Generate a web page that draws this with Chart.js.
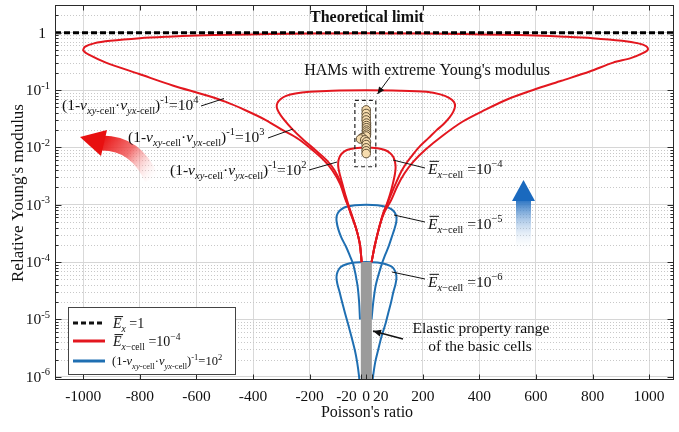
<!DOCTYPE html>
<html><head><meta charset="utf-8">
<script src="https://cdn.jsdelivr.net/npm/chart.js@4.4.0/dist/chart.umd.min.js"></script>
<style>html,body{margin:0;padding:0;background:#fff;}canvas{display:block;}</style>
</head><body>
<canvas id="c" width="679" height="432"></canvas>
<script>
// ---------- data ----------
const xTickValues = [-1000,-800,-600,-400,-200,-20,0,20,200,400,600,800,1000];
const xTickLabels = ['-1000','-800','-600','-400','-200','-20','0','20','200','400','600','800','1000'];
const yTickExponents = [-6,-5,-4,-3,-2,-1,0];
const limitLine = [[-1100,1],[1100,1]];
// red: E_x-cell = 1e-4, (1 - v·v)^-1 = 1e4
const redLoop1e4 = [[-16,1e-4],[-22,2e-4],[-31,3.2e-4],[-40,4.5e-4],[-52,6.5e-4],[-62,9e-4],[-75,1.3e-3],[-92,2.3e-3],[-120,4.0e-3],[-150,6.0e-3],[-190,9.0e-3],[-240,1.4e-2],[-295,2.0e-2],[-355,3.0e-2],[-425,4.4e-2],[-496,6.2e-2],[-566,8.1e-2],[-684,0.12],[-802,0.19],[-920,0.30],[-975,0.40],[-1000,0.49],[-993,0.57],[-962,0.65],[-905,0.72],[-800,0.80],[-700,0.85],[-600,0.89],[-480,0.92],[-340,0.945],[-180,0.965],[0,0.972],[180,0.965],[340,0.945],[480,0.92],[600,0.89],[700,0.85],[800,0.80],[905,0.72],[962,0.65],[990,0.58],[996,0.51],[978,0.44],[935,0.36],[873,0.30],[790,0.21],[690,0.145],[590,0.1],[500,0.069],[420,0.045],[340,0.028],[270,0.016],[210,0.0092],[166,0.0056],[135,0.0035],[110,0.0021],[88,0.0012],[65,7.5e-4],[48,4.4e-4],[31,2.0e-4],[19,1.0e-4]];
// red: (1 - v·v)^-1 = 1e3
const redLoop1e3 = [[-16,1e-4],[-22,2e-4],[-31,3.2e-4],[-40,4.5e-4],[-52,6.5e-4],[-62,9e-4],[-73,1.3e-3],[-88,2.3e-3],[-112,4.0e-3],[-140,6.0e-3],[-180,9.0e-3],[-225,1.4e-2],[-262,2.1e-2],[-292,3.1e-2],[-309,4.1e-2],[-316,5.0e-2],[-314,5.9e-2],[-303,6.9e-2],[-283,7.9e-2],[-250,8.7e-2],[-200,9.3e-2],[-120,9.75e-2],[0,9.9e-2],[120,9.75e-2],[213,9.3e-2],[262,8.4e-2],[293,7.3e-2],[310,6.2e-2],[314,5.2e-2],[308,4.2e-2],[294,3.3e-2],[272,2.5e-2],[249,2.0e-2],[220,1.45e-2],[190,1.05e-2],[165,7.5e-3],[143,5.4e-3],[124,3.8e-3],[107,2.5e-3],[90,1.6e-3],[75,1.05e-3],[62,7.5e-4],[48,4.4e-4],[31,2e-4],[19,1e-4]];
// red: (1 - v·v)^-1 = 1e2
const redLoop1e2 = [[-16,1e-4],[-22,2e-4],[-31,3.2e-4],[-40,4.5e-4],[-50,6.5e-4],[-60,9e-4],[-72,1.4e-3],[-83,2.2e-3],[-92,3.2e-3],[-98,4.3e-3],[-99,5.4e-3],[-95,6.6e-3],[-85,7.9e-3],[-68,9.0e-3],[-40,9.7e-3],[0,1.0e-2],[40,9.7e-3],[66,9.0e-3],[84,8.0e-3],[96,6.8e-3],[102,5.5e-3],[104,4.4e-3],[101,3.3e-3],[94,2.3e-3],[84,1.5e-3],[72,1.0e-3],[60,7e-4],[48,4.4e-4],[31,2e-4],[19,1e-4]];
// blue: (1 - v·v)^-1 = 1e2, E_x-cell = 1e-5
const blueLoop1e5 = [[-22,1e-5],[-25,2e-5],[-31,4e-5],[-45,8.9e-5],[-58,1.3e-4],[-70,1.8e-4],[-88,2.7e-4],[-99,3.8e-4],[-104,4.9e-4],[-105,6.0e-4],[-100,7.2e-4],[-88,8.3e-4],[-70,9.2e-4],[-40,9.8e-4],[0,1e-3],[40,9.8e-4],[70,9.2e-4],[90,8.3e-4],[102,7.2e-4],[107,6.0e-4],[106,4.9e-4],[100,3.8e-4],[90,2.7e-4],[78,1.8e-4],[66,1.3e-4],[54,8.9e-5],[34,4e-5],[25,2e-5],[19,1e-5]];
// blue: E_x-cell = 1e-6
const blueLoop1e6 = [[-24,8e-7],[-25,1e-6],[-32,1.8e-6],[-40,2.9e-6],[-52,5e-6],[-64,8.3e-6],[-75,1.3e-5],[-85,2.0e-5],[-94,3.0e-5],[-102,4.2e-5],[-105,5.4e-5],[-101,6.8e-5],[-90,8.2e-5],[-70,9.2e-5],[-40,9.8e-5],[0,1e-4],[40,9.8e-5],[70,9.2e-5],[92,8.2e-5],[103,6.8e-5],[107,5.4e-5],[104,4.2e-5],[96,3.0e-5],[88,2.0e-5],[78,1.3e-5],[68,8.3e-6],[54,5e-6],[42,2.9e-6],[32,1.8e-6],[24,1e-6],[22,8e-7]];
// elastic property range of the basic cells
const cellRange = [[-19,5e-7],[-19,1e-4],[20,1e-4],[20,5e-7],[-19,5e-7]];
// HAMs with extreme Young's modulus
const hamPoints = [[0,0.045],[0,0.039],[0,0.034],[0,0.030],[1,0.0265],[1,0.024],[1,0.022],[1,0.020],[1,0.0185],[1,0.017],[0,0.0158],[-14,0.0148],[-20,0.0140],[-5,0.0135],[1,0.0125],[0,0.0112],[0,0.0098],[0,0.0087],[0,0.0078]];
const hamBox = [[-40,0.066],[34,0.066],[34,0.0046],[-40,0.0046],[-40,0.066]];

// ---------- styling ----------
const RED = '#e3171f', BLUE = '#1f6fb2', SERIF = "'Liberation Serif','Times New Roman',serif";
const pts = arr => arr.map(([x,y]) => ({x,y}));
const curve = (data, color, order) => ({data: pts(data), showLine: true, borderColor: color, borderWidth: 2, pointRadius: 0, tension: 0.3, fill: false, order});

function rich(ctx, x, y, segs, size, align='left', color='#111') {
  const parts = segs.map(([t, f='']) => {
    const small = f.includes('s') || f.includes('p');
    const sz = small ? size*0.68 : size;
    const font = (f.includes('i')?'italic ':'') + (f.includes('b')?'bold ':'') + sz + 'px ' + SERIF;
    ctx.font = font;
    return {t, f, font, w: ctx.measureText(t).width, dy: f.includes('s') ? size*0.28 : (f.includes('p') ? -size*0.42 : 0)};
  });
  const total = parts.reduce((s,p)=>s+p.w,0);
  let cx = align==='center' ? x-total/2 : (align==='right' ? x-total : x);
  ctx.fillStyle = color; ctx.textAlign='left'; ctx.textBaseline='alphabetic';
  for (const p of parts) {
    ctx.font = p.font; ctx.fillText(p.t, cx, y+p.dy);
    if (p.f.includes('o')) ctx.fillRect(cx+1.5, y - size*0.85, p.w, 1);
    cx += p.w;
  }
  return total;
}
const nuLabel = e => [['(1-'],['ν','i'],['xy','is'],['-cell','s'],['·'],['ν','i'],['yx','is'],['-cell','s'],[')'],['-1','p'],['=10'],[e,'p']];
const eLabel = e => [['E','io'],['x','is'],['−cell','s'],[' =10'],[e,'p']];

function line(ctx, x1,y1,x2,y2) { ctx.beginPath(); ctx.moveTo(x1,y1); ctx.lineTo(x2,y2); ctx.stroke(); }
function arrow(ctx, x1,y1,x2,y2, hl=7, hw=3.2) {
  line(ctx,x1,y1,x2,y2);
  const a = Math.atan2(y2-y1,x2-x1);
  ctx.beginPath(); ctx.moveTo(x2,y2);
  ctx.lineTo(x2 - hl*Math.cos(a) + hw*Math.sin(a), y2 - hl*Math.sin(a) - hw*Math.cos(a));
  ctx.lineTo(x2 - hl*Math.cos(a) - hw*Math.sin(a), y2 - hl*Math.sin(a) + hw*Math.cos(a));
  ctx.closePath(); ctx.fill();
}

const overlay = {
  id: 'overlay',
  beforeDatasetsDraw(chart) {
    const {ctx, chartArea: a, scales: {y}} = chart;
    ctx.save();
    ctx.strokeStyle = '#c8c8c8'; ctx.lineWidth = 1; ctx.setLineDash([1,2]);
    for (let e = -7; e <= 0; e++) for (let m = 2; m <= 9; m++) {
      const v = m * Math.pow(10, e);
      if (v <= y.min || v >= y.max) continue;
      const py = Math.round(y.getPixelForValue(v)) + 0.5;
      line(ctx, a.left, py, a.right, py);
    }
    ctx.restore();
  },
  afterDraw(chart) {
    const {ctx, chartArea: a, scales: {x, y}} = chart;
    ctx.save();
    // frame
    ctx.strokeStyle = '#2a2a2a'; ctx.lineWidth = 1;
    const L = Math.round(a.left)+0.5, R = Math.round(a.right)-0.5, T = Math.round(a.top)+0.5, B = Math.round(a.bottom)-0.5;
    ctx.strokeRect(L, T, R-L, B-T);
    // ticks
    xTickValues.forEach(v => {
      const px = Math.round(x.getPixelForValue(v))+0.5;
      line(ctx, px, B, px, B-5);
      if (v % 200 === 0) line(ctx, px, T, px, T+5);
    });
    for (let e = -7; e <= 0; e++) for (let m = 1; m <= 9; m++) {
      const v = m*Math.pow(10,e);
      if (v < y.min || v > y.max) continue;
      const py = Math.round(y.getPixelForValue(v))+0.5;
      const len = m === 1 ? 6 : 3;
      line(ctx, L, py, L+len, py); line(ctx, R, py, R-len, py);
    }
    // tick labels
    const xOff = {'-20': -14, '20': 9};
    xTickValues.forEach((v,i) => {
      const px = x.getPixelForValue(v) + (xOff[String(v)] || 0);
      rich(ctx, px, 401, [[xTickLabels[i]]], 15.5, 'center');
    });
    yTickExponents.forEach(e => {
      const py = y.getPixelForValue(Math.pow(10,e));
      if (e === 0) rich(ctx, 46, py+5, [['1']], 15.5, 'right');
      else rich(ctx, 50, py+5, [['10'],[String(e),'p']], 15.5, 'right');
    });
    // axis titles
    rich(ctx, 367, 417, [["Poisson's ratio"]], 16, 'center');
    ctx.save(); ctx.translate(23, 193); ctx.rotate(-Math.PI/2);
    rich(ctx, 0, 0, [["Relative Young's modulus"]], 17, 'center');
    ctx.restore();

    // gradient arrows
    let g = ctx.createLinearGradient(100,140,154,182);
    g.addColorStop(0, 'rgba(232,16,16,1)'); g.addColorStop(0.45,'rgba(240,80,80,0.8)'); g.addColorStop(1, 'rgba(255,255,255,0)');
    ctx.strokeStyle = g; ctx.lineWidth = 15; ctx.lineCap = 'butt';
    ctx.beginPath(); ctx.moveTo(102,143); ctx.quadraticCurveTo(136,143,152,179); ctx.stroke();
    ctx.fillStyle = '#e81010';
    ctx.beginPath(); ctx.moveTo(80,137); ctx.lineTo(107,130); ctx.lineTo(101,156); ctx.closePath(); ctx.fill();
    g = ctx.createLinearGradient(0,198,0,252);
    g.addColorStop(0, 'rgba(26,105,190,1)'); g.addColorStop(1, 'rgba(255,255,255,0)');
    ctx.fillStyle = g; ctx.fillRect(516,199,15,53);
    ctx.fillStyle = '#1a69be';
    ctx.beginPath(); ctx.moveTo(523.5,180); ctx.lineTo(535,201); ctx.lineTo(512,201); ctx.closePath(); ctx.fill();

    // annotations
    ctx.strokeStyle = '#111'; ctx.fillStyle = '#111'; ctx.lineWidth = 1;
    rich(ctx, 310, 22, [['Theoretical limit','b']], 16, 'left');
    rich(ctx, 427, 75, [["HAMs with extreme Young's modulus"]], 16, 'center');
    ctx.strokeStyle = '#111'; ctx.fillStyle = '#111';
    arrow(ctx, 390, 77, 377.5, 94);
    rich(ctx, 62, 110, nuLabel('4'), 15.5);
    line(ctx, 201, 106, 224, 98.5);
    rich(ctx, 128, 142, nuLabel('3'), 15.5);
    line(ctx, 268, 138, 293, 129);
    rich(ctx, 170, 175, nuLabel('2'), 15.5);
    line(ctx, 309, 170, 337, 162);
    rich(ctx, 428, 174, eLabel('−4'), 15.5);
    line(ctx, 393, 160, 425, 168);
    rich(ctx, 428, 229, eLabel('−5'), 15.5);
    line(ctx, 394, 215, 425, 222);
    rich(ctx, 428, 287, eLabel('−6'), 15.5);
    line(ctx, 392, 272, 425, 279);
    rich(ctx, 481, 333, [['Elastic property range']], 15.5, 'center');
    rich(ctx, 480, 351, [['of the basic cells']], 15.5, 'center');
    ctx.strokeStyle = '#111'; ctx.fillStyle = '#111'; ctx.lineWidth = 1.3;
    arrow(ctx, 403, 339, 373, 331, 8, 3.5);

    // legend
    ctx.lineWidth = 1; ctx.fillStyle = '#fff'; ctx.strokeStyle = '#444';
    ctx.fillRect(68.5,307.5,167,67); ctx.strokeRect(68.5,307.5,167,67);
    ctx.lineWidth = 3;
    ctx.strokeStyle = '#111'; ctx.setLineDash([5,3]); line(ctx, 73, 323, 105, 323); ctx.setLineDash([]);
    ctx.strokeStyle = RED; line(ctx, 73, 341, 105, 341);
    ctx.strokeStyle = BLUE; line(ctx, 73, 361, 105, 361);
    rich(ctx, 113, 328, [['E','io'],['x','is'],[' =1']], 14);
    rich(ctx, 113, 346, eLabel('−4'), 14);
    rich(ctx, 112, 365, nuLabel('2'), 12.5);
    ctx.restore();
  }
};

new Chart(document.getElementById('c'), {
  type: 'scatter',
  data: { datasets: [
    {data: pts(hamPoints), pointRadius: 4.3, pointBackgroundColor: '#f6dcae', pointBorderColor: '#5d4c33', pointBorderWidth: 1, showLine: false, order: 0},
    {data: pts(hamBox), showLine: true, borderColor: '#222', borderWidth: 1.2, borderDash: [4,3], pointRadius: 0, tension: 0, order: 1},
    {data: pts(limitLine), showLine: true, borderColor: '#000', borderWidth: 3, borderDash: [6,3], pointRadius: 0, order: 2},
    curve(redLoop1e4, RED, 3),
    curve(redLoop1e3, RED, 4),
    curve(redLoop1e2, RED, 5),
    {data: pts(cellRange), showLine: true, fill: 'shape', backgroundColor: '#9b9b9b', borderWidth: 0, pointRadius: 0, tension: 0, order: 6},
    curve(blueLoop1e5, BLUE, 7),
    curve(blueLoop1e6, BLUE, 8)
  ]},
  options: {
    responsive: false, animation: false, devicePixelRatio: 1,
    layout: { padding: {top: 1, right: 5, left: 0, bottom: 0} },
    plugins: { legend: {display: false}, tooltip: {enabled: false} },
    scales: {
      x: { type: 'linear', min: -1100, max: 1087,
        afterFit: s => { s.height = 52; },
        afterBuildTicks: s => { s.ticks = xTickValues.map(v => ({value: v})); },
        ticks: {display: false},
        grid: {drawTicks: false, color: c => (c.tick && c.tick.value % 200 === 0) ? '#d9d9d9' : 'rgba(0,0,0,0)'},
        border: {display: false}
      },
      y: { type: 'logarithmic', min: 8.8e-7, max: 3,
        afterFit: s => { s.width = 55; },
        afterBuildTicks: s => { s.ticks = yTickExponents.map(e => ({value: Math.pow(10, e)})); },
        ticks: {display: false},
        grid: {drawTicks: false, color: '#d6d6d6'},
        border: {display: false}
      }
    }
  },
  plugins: [overlay]
});
</script>
</body></html>
